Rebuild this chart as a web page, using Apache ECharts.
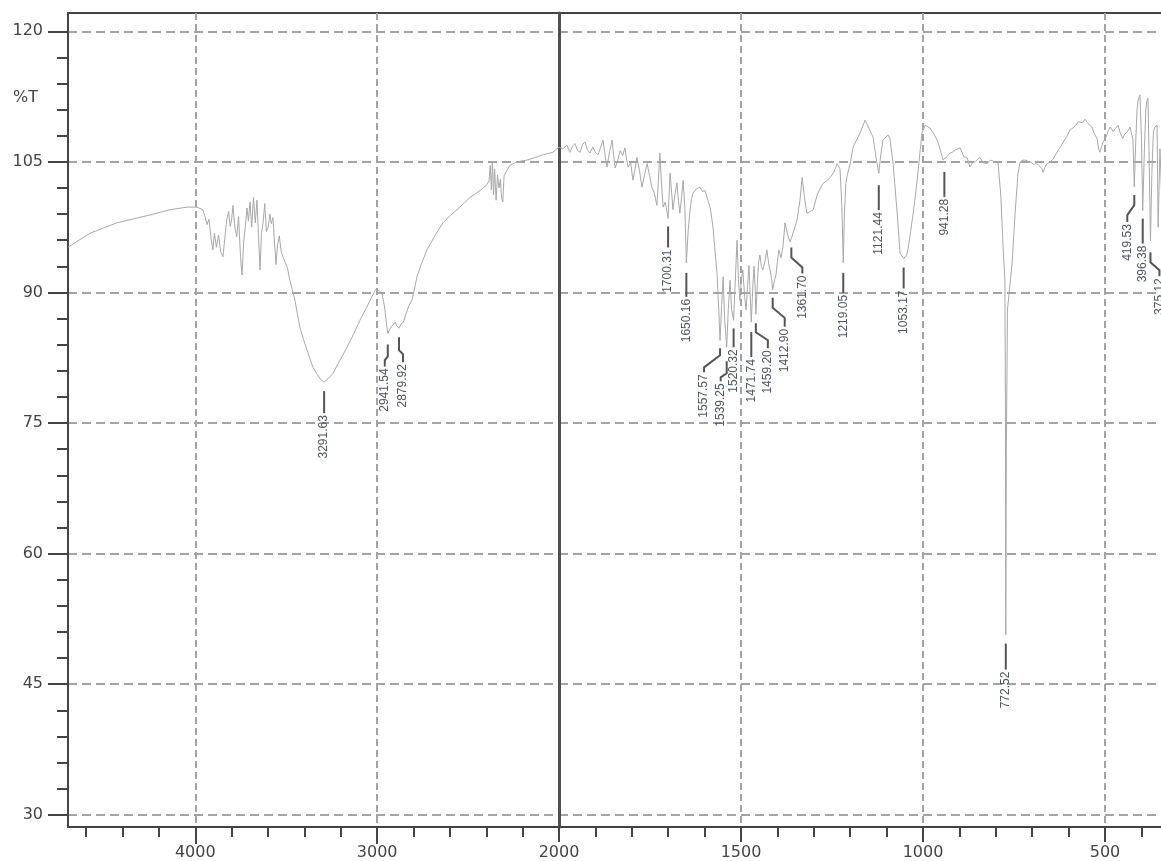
<!DOCTYPE html>
<html>
<head>
<meta charset="utf-8">
<script src="https://cdn.jsdelivr.net/npm/echarts@6.0.0/dist/echarts.min.js"></script>
<style>
html, body { margin: 0; padding: 0; background: #fff; }
#chart { width: 1161px; height: 861px; }
</style>
</head>
<body>
<div id="chart"></div>
<script>
// IR spectrum, wavenumber (cm-1) vs %T
var specWave = [
	4700, 4579, 4431, 4249, 4139, 4046, 3991, 3958, 3945, 3936, 3925, 3912, 3903, 3895, 3884, 3872, 3860, 3848, 3838, 3828,
	3817, 3808, 3800, 3793, 3782, 3772, 3762, 3751, 3743, 3734, 3725, 3716, 3708, 3699, 3690, 3680, 3670, 3661, 3652, 3644,
	3636, 3627, 3618, 3609, 3600, 3590, 3582, 3573, 3564, 3556, 3548, 3538, 3528, 3518, 3505, 3493, 3480, 3466, 3452, 3438,
	3425, 3405, 3386, 3370, 3353, 3330, 3310, 3291.63, 3270, 3243, 3205, 3166, 3130, 3095, 3060, 3029, 3010, 3001, 2988, 2974,
	2965, 2957, 2950, 2941.54, 2930, 2913, 2900, 2893, 2886, 2879.92, 2868, 2855, 2840, 2825, 2809, 2795, 2781, 2760, 2726, 2680,
	2638, 2600, 2561, 2520, 2490, 2435, 2400, 2385, 2378, 2372, 2366, 2360, 2354, 2346, 2338, 2330, 2322, 2316, 2309, 2302,
	2287, 2270, 2232, 2177, 2130, 2089, 2034, 2000,
	1990, 1978, 1970, 1963, 1956, 1949, 1942, 1935, 1929, 1922, 1915, 1907, 1900, 1893, 1886, 1879, 1873, 1868, 1861, 1854,
	1850, 1846, 1839, 1832, 1825, 1819, 1814, 1810, 1803, 1797, 1791, 1786, 1779, 1772, 1765, 1758, 1751, 1745, 1738, 1731,
	1727, 1723, 1718, 1714, 1708, 1700.31, 1695, 1690, 1687, 1681, 1676, 1672, 1668, 1663, 1659, 1654, 1650.16, 1645, 1640, 1636,
	1632, 1622, 1613, 1606, 1599, 1591, 1584, 1577, 1571, 1566, 1561, 1557.57, 1553, 1549, 1545, 1539.25, 1535, 1530, 1526, 1520.32,
	1515, 1511, 1507, 1503, 1499, 1495, 1490, 1486, 1482, 1478, 1475, 1471.74, 1467, 1464, 1461, 1459.20, 1455, 1452, 1448, 1444,
	1440, 1434, 1429, 1424, 1420, 1416, 1412.90, 1408, 1404, 1400, 1396, 1390, 1385, 1379, 1371, 1365, 1361.70, 1357, 1346, 1338,
	1332, 1326, 1319, 1310, 1302, 1290, 1275, 1265, 1255, 1245, 1236, 1228, 1223, 1219.05, 1216, 1212, 1208, 1200, 1192, 1173,
	1159, 1148, 1137, 1128, 1121.44, 1116, 1110, 1096, 1091, 1082, 1071, 1063, 1053.17, 1045, 1041, 1034, 1027, 1016, 1003, 994,
	981, 970, 961, 952, 945, 941.28, 934, 926, 920, 910, 898, 888, 879, 871, 864, 857, 850, 843, 835, 824,
	815, 808, 800, 794, 786, 780, 775, 773.5, 772.52, 771, 768, 762, 755, 747, 739, 733, 725, 717, 710, 703,
	697, 690, 684, 679, 673, 670, 666, 659, 651, 643, 636, 629, 621, 613, 605, 596, 588, 580, 574, 569,
	562, 555, 548, 542, 536, 529, 522, 517, 514, 509, 505, 500, 495, 491, 486, 482, 478, 472, 464, 458,
	451, 446, 440, 437, 431, 426, 423, 419.53, 415, 412, 409, 404, 400, 396.38, 392, 388, 385, 382, 379, 375.12,
	371, 367, 363, 357, 354, 349, 345, 340, 335, 330
];
var specT = [
	95.2, 96.8, 98.0, 98.9, 99.5, 99.8, 99.8, 99.5, 98.6, 97.8, 98.4, 96.0, 94.9, 96.8, 95.2, 96.6, 94.6, 94.1, 96.2, 98.2,
	99.3, 97.6, 98.4, 100.0, 97.4, 96.4, 98.7, 94.0, 92.0, 95.8, 97.6, 99.7, 98.2, 100.4, 97.5, 100.9, 98.0, 100.6, 96.3, 92.6,
	96.8, 98.1, 100.2, 97.0, 97.4, 99.0, 97.9, 98.6, 95.6, 93.2, 95.4, 96.5, 94.7, 94.1, 93.4, 92.8, 91.4, 90.3, 89.1, 87.5,
	86.0, 84.6, 83.4, 82.4, 81.4, 80.6, 80.0, 79.7, 80.1, 80.7, 82.2, 83.7, 85.2, 86.8, 88.2, 89.5, 90.3, 90.5, 90.2, 89.9,
	89.0, 88.0, 86.6, 85.3, 85.8, 86.3, 86.6, 86.2, 86.0, 85.9, 86.4, 86.6, 87.6, 88.5, 89.1, 90.4, 91.8, 93.1, 94.9, 96.6,
	98.0, 98.8, 99.5, 100.3, 100.9, 101.7, 102.3, 102.8, 104.6, 101.8, 105.0, 101.2, 104.2, 100.6, 103.5, 102.0, 103.0, 100.8, 100.4, 103.4,
	104.0, 104.6, 105.0, 105.2, 105.5, 105.8, 106.1, 106.7,
	106.5, 106.9, 106.1, 106.8, 107.1, 106.3, 106.1, 107.0, 107.3, 106.4, 106.0, 106.7, 106.1, 105.8, 106.6, 107.5, 105.6, 104.4, 106.2, 107.5,
	105.8, 104.3, 105.1, 106.3, 105.7, 106.6, 105.2, 104.4, 104.9, 102.9, 104.2, 105.5, 104.0, 102.1, 103.5, 104.8, 103.4, 102.1, 101.4, 100.0,
	102.8, 106.0, 102.3, 99.8, 100.4, 98.5, 103.7, 101.2, 99.5, 101.4, 102.6, 100.6, 99.1, 101.0, 102.9, 99.5, 93.4, 97.2, 99.5, 100.7,
	101.4, 101.9, 102.1, 101.6, 101.7, 100.6, 99.6, 97.5, 94.6, 92.2, 88.0, 84.5, 88.6, 91.8, 87.0, 83.7, 88.0, 91.4, 88.1, 86.8,
	92.0, 96.0, 91.5, 89.1, 91.4, 92.6, 89.5, 88.0, 90.8, 93.1, 90.0, 86.6, 91.2, 93.0, 90.2, 87.5, 91.0, 93.4, 94.3, 93.0,
	92.6, 93.6, 94.9, 93.3, 92.6, 91.6, 90.3, 91.4, 92.0, 93.5, 94.9, 94.0, 95.2, 98.0, 96.5, 95.8, 96.2, 96.3, 98.3, 100.6,
	103.2, 101.0, 99.1, 99.3, 99.5, 101.3, 102.5, 102.8, 103.2, 103.8, 104.8, 104.2, 100.0, 93.4, 99.0, 102.5, 103.5, 104.8, 106.7, 108.3,
	109.8, 108.8, 107.8, 105.2, 103.7, 105.8, 107.5, 108.1, 107.7, 104.8, 99.1, 94.5, 93.9, 94.3, 95.0, 97.0, 99.1, 102.9, 108.3, 109.2,
	108.9, 108.2, 107.5, 106.3, 105.2, 105.0, 105.6, 106.0, 106.1, 106.4, 106.6, 105.6, 105.5, 104.4, 104.9, 105.0, 105.3, 105.5, 104.9, 104.8,
	105.2, 105.1, 104.9, 105.0, 101.0, 95.2, 91.4, 75.0, 50.7, 72.0, 88.0, 90.5, 93.5, 99.1, 103.7, 105.0, 105.2, 105.2, 105.0, 105.0,
	104.7, 104.8, 104.7, 104.6, 104.2, 103.8, 104.3, 104.8, 105.0, 105.3, 105.8, 106.3, 106.8, 107.4, 107.9, 108.7, 108.9, 109.2, 109.6, 109.4,
	109.5, 109.9, 109.5, 109.2, 109.0, 108.2, 107.7, 106.4, 106.1, 106.8, 107.3, 107.6, 108.1, 108.6, 109.0, 108.8, 108.5, 108.8, 109.2, 108.3,
	107.7, 108.2, 108.4, 108.6, 109.0, 109.2, 107.5, 102.1, 108.0, 111.0, 112.1, 112.7, 108.0, 99.4, 106.0, 111.0, 112.0, 112.3, 106.0, 96.0,
	104.0, 108.5, 109.0, 109.2, 97.5, 106.5, 102.0, 105.0, 103.0, 104.0
];

// labelled peaks
var peakWave = [3291.63, 2941.54, 2879.92, 1700.31, 1650.16, 1557.57, 1539.25, 1520.32, 1471.74, 1459.20,
	1412.90, 1361.70, 1219.05, 1121.44, 1053.17, 941.28, 772.52, 419.53, 396.38, 375.12];
var peakT = [79.7, 85.3, 85.9, 98.5, 93.4, 84.5, 83.7, 86.8, 86.6, 87.5,
	90.3, 96.2, 93.4, 103.7, 93.9, 105.0, 50.7, 102.1, 99.4, 96.0];
var peakText = ['3291.63', '2941.54', '2879.92', '1700.31', '1650.16', '1557.57', '1539.25', '1520.32', '1471.74', '1459.20',
	'1412.90', '1361.70', '1219.05', '1121.44', '1053.17', '941.28', '772.52', '419.53', '396.38', '375.12'];
// leader shape in px: gap below peak, first drop, sideways shift, drop while shifting, second drop
var peakLeader = [
	[9, 22, 0, 0, 0], [11, 12, -3, 4, 6], [9, 13, 4, 4, 8], [8, 21, 0, 0, 0], [10, 24, 0, 0, 0],
	[8, 7, -16, 12, 5], [14, 12, -6, 4, 4], [8, 19, 0, 0, 0], [10, 25, 0, 0, 0], [9, 9, 12, 8, 8],
	[8, 10, 12, 10, 9], [9, 10, 11, 10, 6], [10, 20, 0, 0, 0], [12, 25, 0, 0, 0], [9, 21, 0, 0, 0],
	[10, 25, 0, 0, 0], [9, 26, 0, 0, 0], [8, 10, -7, 10, 7], [8, 25, 0, 0, 0], [12, 10, 9, 8, 6]
];

var yMajor = [30, 45, 60, 75, 90, 105, 120];
var yMinor = [33, 36, 39, 42, 48, 51, 54, 57, 63, 66, 69, 72, 78, 81, 84, 87, 93, 96, 99, 102, 108, 111, 114, 117];
var xMajorLeft = [3000, 4000];
var xMinorLeft = [2200, 2400, 2600, 2800, 3200, 3400, 3600, 3800, 4200, 4400, 4600];

var dark = '#444';
var plain = function (v) { return String(v); };
var labelFont = { fontSize: 16, fontFamily: 'DejaVu Sans', color: '#444', formatter: plain };

var leftLine = [], rightLine = [], leftPeaks = [], rightPeaks = [];
for (var i = 0; i < specWave.length; i++) {
	if (specWave[i] >= 2000) leftLine.push([specWave[i], specT[i]]);
	if (specWave[i] <= 2000) rightLine.push([specWave[i], specT[i]]);
}
for (var i = 0; i < peakWave.length; i++) {
	if (peakWave[i] > 2000) leftPeaks.push([peakWave[i], peakT[i], i]);
	else rightPeaks.push([peakWave[i], peakT[i], i]);
}

function drawPeak(params, api) {
	var k = api.value(2);
	var p = api.coord([api.value(0), api.value(1)]);
	var L = peakLeader[k];
	var x0 = p[0], y0 = p[1] + L[0];
	var y1 = y0 + L[1];
	var x1 = x0 + L[2], y2 = y1 + L[3], y3 = y2 + L[4];
	var pts = [[x0, y0], [x0, y1]];
	if (L[2] !== 0) { pts.push([x1, y2]); pts.push([x1, y3]); }
	return {
		type: 'group',
		children: [
			{ type: 'polyline', shape: { points: pts }, style: { stroke: '#555', lineWidth: 2, fill: 'none' } },
			{
				type: 'text', x: x1, y: y3 + 2, rotation: Math.PI / 2,
				style: { text: peakText[k], font: '12px "Liberation Sans"', fill: '#4d5560', align: 'right', verticalAlign: 'middle' }
			}
		]
	};
}

var chart = echarts.init(document.getElementById('chart'));
chart.setOption({
	animation: false,
	backgroundColor: '#fff',
	title: {
		text: '%T', left: 13, top: 90, padding: 0,
		textStyle: { fontSize: 16, fontWeight: 'normal', fontFamily: 'DejaVu Sans', color: '#444' }
	},
	grid: [
		{ left: 68, top: 13, width: 491, height: 814, show: true, borderColor: dark, borderWidth: 2, outerBoundsMode: 'none', containLabel: false },
		{ left: 559, top: 13, width: 728, height: 814, show: true, borderColor: dark, borderWidth: 2, outerBoundsMode: 'none', containLabel: false }
	],
	xAxis: [
		{
			gridIndex: 0, type: 'value', position: 'bottom', inverse: true, min: 2000, max: 4700, interval: 1000,
			axisLine: { show: true, onZero: false, lineStyle: { color: dark, width: 2 } },
			axisTick: { show: true, length: 17, customValues: xMajorLeft, lineStyle: { color: dark, width: 2 } },
			axisLabel: Object.assign({ customValues: xMajorLeft, margin: 18 }, labelFont),
			splitLine: { show: true, lineStyle: { color: '#a3a3a3', width: 2, type: [7, 4] } }
		},
		{
			gridIndex: 0, type: 'value', position: 'bottom', inverse: true, min: 2000, max: 4700,
			axisLine: { show: false, onZero: false },
			axisTick: { show: true, length: 10, customValues: xMinorLeft, lineStyle: { color: dark, width: 2 } },
			axisLabel: { show: false },
			splitLine: { show: false }
		},
		{
			gridIndex: 1, type: 'value', position: 'bottom', inverse: true, min: 0, max: 2000, interval: 500,
			axisLine: { show: true, onZero: false, lineStyle: { color: dark, width: 2 } },
			axisTick: { show: true, length: 15, lineStyle: { color: dark, width: 2 } },
			minorTick: { show: true, splitNumber: 5, length: 10, lineStyle: { color: dark, width: 2 } },
			axisLabel: Object.assign({ margin: 18 }, labelFont),
			splitLine: { show: true, lineStyle: { color: '#a3a3a3', width: 2, type: [7, 4] } }
		}
	],
	yAxis: [
		{
			gridIndex: 0, type: 'value', position: 'left', min: 28.6, max: 122.1,
			axisLine: { show: true, onZero: false, lineStyle: { color: dark, width: 2 } },
			axisTick: { show: true, length: 20, customValues: yMajor, lineStyle: { color: dark, width: 2 } },
			axisLabel: Object.assign({ customValues: yMajor, margin: 25 }, labelFont),
			splitLine: { show: true, lineStyle: { color: '#a3a3a3', width: 2, type: [9, 5] } }
		},
		{
			gridIndex: 0, type: 'value', position: 'left', min: 28.6, max: 122.1,
			axisLine: { show: false, onZero: false },
			axisTick: { show: true, length: 11, customValues: yMinor, lineStyle: { color: dark, width: 2 } },
			axisLabel: { show: false },
			splitLine: { show: false }
		},
		{
			gridIndex: 1, type: 'value', position: 'left', min: 28.6, max: 122.1,
			axisLine: { show: true, onZero: false, lineStyle: { color: '#505050', width: 3 } },
			axisTick: { show: false, customValues: yMajor },
			axisLabel: { show: false },
			splitLine: { show: true, lineStyle: { color: '#a3a3a3', width: 2, type: [9, 5] } }
		}
	],
	series: [
		{
			type: 'line', xAxisIndex: 0, yAxisIndex: 0, data: leftLine, symbol: 'none',
			lineStyle: { color: '#a8a8a8', width: 1 }, z: 3
		},
		{
			type: 'line', xAxisIndex: 2, yAxisIndex: 2, data: rightLine, symbol: 'none',
			lineStyle: { color: '#a8a8a8', width: 1 }, z: 3
		},
		{ type: 'custom', xAxisIndex: 0, yAxisIndex: 0, data: leftPeaks, renderItem: drawPeak, z: 4 },
		{ type: 'custom', xAxisIndex: 2, yAxisIndex: 2, data: rightPeaks, renderItem: drawPeak, z: 4 }
	]
});
</script>
</body>
</html>
